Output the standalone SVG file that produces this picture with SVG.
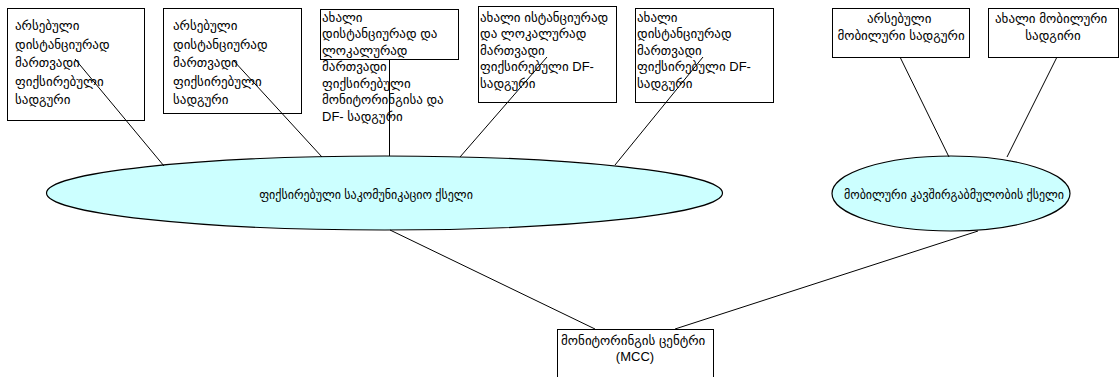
<svg xmlns="http://www.w3.org/2000/svg" width="1120" height="377" viewBox="0 0 1120 377">
  <style>
    .box { fill: #ffffff; stroke: #000000; stroke-width: 1; }
    .net { fill: #ccffff; stroke: #000000; stroke-width: 1.2; }
    .t { font-family: "Liberation Sans", "DejaVu Sans", sans-serif; font-size: 13px; fill: #000000; }
    .n { font-size: 12px; }
    .c { text-anchor: middle; }
    .link { stroke: #000000; stroke-width: 1; fill: none; }
  </style>
  <rect x="0" y="0" width="1120" height="377" fill="#ffffff"/>

  <g id="station-existing-remote-1">
    <rect class="box" x="7.5" y="8.5" width="137" height="112"/>
    <text class="t">
      <tspan x="15" y="30">არსებული</tspan>
      <tspan x="15" y="48.5">დისტანციურად</tspan>
      <tspan x="15" y="67">მართვადი</tspan>
      <tspan x="15" y="85.5">ფიქსირებული</tspan>
      <tspan x="15" y="104">სადგური</tspan>
    </text>
  </g>

  <g id="station-existing-remote-2">
    <rect class="box" x="163.5" y="8.5" width="138" height="105"/>
    <text class="t">
      <tspan x="173" y="30">არსებული</tspan>
      <tspan x="173" y="48.5">დისტანციურად</tspan>
      <tspan x="173" y="67">მართვადი</tspan>
      <tspan x="173" y="85.5">ფიქსირებული</tspan>
      <tspan x="173" y="104">სადგური</tspan>
    </text>
  </g>

  <g id="station-new-monitoring-df">
    <rect class="box" x="320.5" y="9.5" width="138" height="50"/>
    <text class="t">
      <tspan x="322" y="21.5">ახალი</tspan>
      <tspan x="322" y="38">დისტანციურად და</tspan>
      <tspan x="322" y="54.5">ლოკალურად</tspan>
      <tspan x="322" y="71">მართვადი</tspan>
      <tspan x="322" y="87.5">ფიქსირებული</tspan>
      <tspan x="322" y="104">მონიტორინგისა და</tspan>
      <tspan x="322" y="120.5">DF- სადგური</tspan>
    </text>
  </g>

  <g id="station-new-df-local">
    <rect class="box" x="478.5" y="6.5" width="138" height="96"/>
    <text class="t">
      <tspan x="480" y="21.5">ახალი ისტანციურად</tspan>
      <tspan x="480" y="38">და ლოკალურად</tspan>
      <tspan x="480" y="54.5">მართვადი</tspan>
      <tspan x="480" y="71">ფიქსირებული DF-</tspan>
      <tspan x="480" y="87.5">სადგური</tspan>
    </text>
  </g>

  <g id="station-new-df-remote">
    <rect class="box" x="635.5" y="8.5" width="138" height="94"/>
    <text class="t">
      <tspan x="637" y="21.5">ახალი</tspan>
      <tspan x="637" y="38">დისტანციურად</tspan>
      <tspan x="637" y="54.5">მართვადი</tspan>
      <tspan x="637" y="71">ფიქსირებული DF-</tspan>
      <tspan x="637" y="87.5">სადგური</tspan>
    </text>
  </g>

  <g id="station-existing-mobile">
    <rect class="box" x="832.5" y="8.5" width="137" height="49"/>
    <text class="t c">
      <tspan x="901" y="22.5">არსებული</tspan>
      <tspan x="901" y="39.5">მობილური სადგური</tspan>
    </text>
  </g>

  <g id="station-new-mobile">
    <rect class="box" x="988.5" y="8.5" width="130" height="49"/>
    <text class="t c">
      <tspan x="1053" y="22.5">ახალი მობილური</tspan>
      <tspan x="1053" y="39.5">სადგირი</tspan>
    </text>
  </g>

  <g id="fixed-network">
    <ellipse class="net" cx="384.5" cy="193" rx="338" ry="37"/>
    <text class="t n c" x="366" y="199">ფიქსირებული საკომუნიკაციო ქსელი</text>
  </g>

  <g id="mobile-network">
    <ellipse class="net" cx="951" cy="193.5" rx="119" ry="37.5"/>
    <text class="t n c" x="954" y="199">მობილური კავშირგაბმულობის ქსელი</text>
  </g>

  <g id="monitoring-center">
    <rect class="box" x="557.5" y="329.5" width="156" height="60"/>
    <text class="t c">
      <tspan x="635" y="344.5">მონიტორინგის ცენტრი</tspan>
      <tspan x="635" y="361">(MCC)</tspan>
    </text>
  </g>

  <g id="connectors">
    <line class="link" x1="75" y1="59" x2="164" y2="166"/>
    <line class="link" x1="233" y1="60" x2="322" y2="157"/>
    <line class="link" x1="389.5" y1="59.5" x2="389.5" y2="156" stroke="#444444"/>
    <line class="link" x1="547" y1="57" x2="460" y2="157"/>
    <line class="link" x1="703" y1="57" x2="615" y2="165"/>
    <line class="link" x1="900" y1="57" x2="949" y2="157"/>
    <line class="link" x1="1057" y1="57" x2="1007" y2="157"/>
    <line class="link" x1="390" y1="230" x2="595" y2="329"/>
    <line class="link" x1="978" y1="231" x2="675" y2="329"/>
  </g>
</svg>
